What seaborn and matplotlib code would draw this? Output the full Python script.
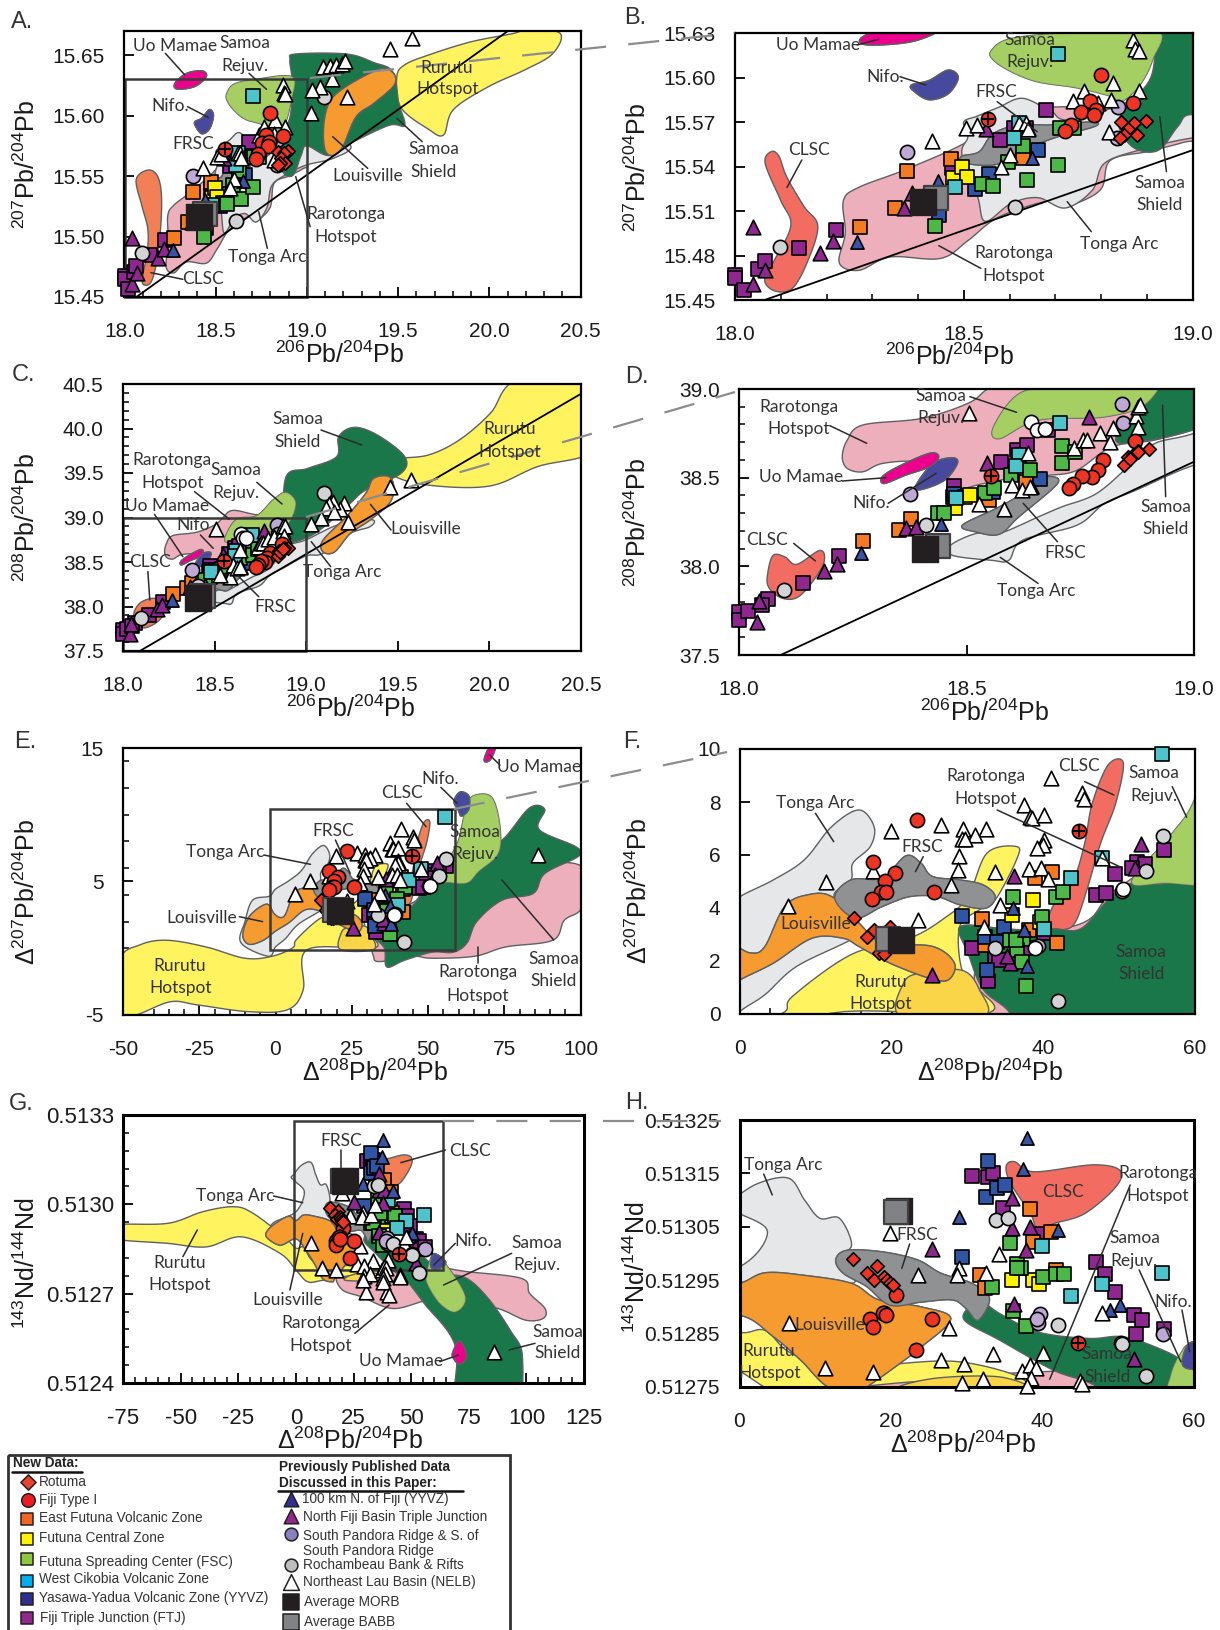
import numpy as np
import pandas as pd
import matplotlib
matplotlib.use("Agg")
import matplotlib.pyplot as plt
import seaborn as sns
from matplotlib.patches import Rectangle

sns.set_style("white")
plt.rcParams['font.family'] = ['Liberation Sans', 'DejaVu Sans']
plt.rcParams['mathtext.fontset'] = 'custom'
plt.rcParams['mathtext.rm'] = 'Liberation Sans'
plt.rcParams['mathtext.default'] = 'regular'

# ==========================================
# POINTS: 206Pb/204Pb vs 207Pb/204Pb
# ==========================================
ftj_207 = [(18.0, 15.467), (18.0, 15.465), (18.02, 15.457), (18.05, 15.471), (18.065, 15.476), (18.14, 15.485),
           (18.22, 15.497), (18.68, 15.578), (18.58, 15.558), (18.475, 15.539), (18.61, 15.566), (18.637, 15.566)]
nfb_207 = [(18.04, 15.499), (18.04, 15.461), (18.066, 15.47), (18.186, 15.482), (18.214, 15.49), (18.386, 15.522),
           (18.37, 15.512), (18.548, 15.565), (18.64, 15.566)]
km100_207 = [(18.267, 15.489), (18.443, 15.53), (18.65, 15.546)]
yyvz_207 = [(18.445, 15.507), (18.556, 15.535), (18.524, 15.525), (18.662, 15.551)]
efvz_207 = [(18.273, 15.499), (18.35, 15.512), (18.377, 15.537), (18.472, 15.545), (18.63, 15.546)]
fcz_207 = [(18.477, 15.532), (18.496, 15.54), (18.507, 15.533)]
fsc_207 = [(18.437, 15.5), (18.539, 15.528), (18.563, 15.527), (18.639, 15.531), (18.706, 15.541), (18.63, 15.554),
           (18.596, 15.543), (18.711, 15.566), (18.74, 15.566)]
wcvz_207 = [(18.48, 15.526), (18.706, 15.616), (18.609, 15.559), (18.62, 15.569)]
fiji_207 = [(18.80, 15.602), (18.87, 15.583), (18.777, 15.584), (18.756, 15.577), (18.79, 15.578), (18.785, 15.575),
            (18.734, 15.568), (18.722, 15.564)]
cross_207 = [(18.553, 15.572)]
rotuma_207 = [(18.843, 15.57), (18.899, 15.571), (18.872, 15.569), (18.858, 15.565), (18.879, 15.561),
              (18.85, 15.561), (18.842, 15.559)]
spr_207 = [(18.375, 15.55), (18.838, 15.58), (18.835, 15.559)]
roch_207 = [(18.098, 15.486), (18.611, 15.513), (19.094, 15.615)]
nelb_207 = [(18.43, 15.557), (18.505, 15.566), (18.528, 15.568), (18.601, 15.548), (18.581, 15.54), (18.62, 15.569),
            (18.635, 15.569), (18.641, 15.565), (18.739, 15.584), (18.763, 15.591), (18.826, 15.596), (18.822, 15.585),
            (18.882, 15.591), (18.871, 15.625), (18.875, 15.619), (18.882, 15.618), (18.817, 15.563), (18.794, 15.583),
            (19.457, 15.655), (19.574, 15.664), (19.09, 15.64), (19.126, 15.641), (19.16, 15.642), (19.19, 15.643),
            (19.21, 15.645), (19.14, 15.63), (19.07, 15.624), (19.03, 15.621), (19.02, 15.602), (19.22, 15.615)]
morb_207 = (18.411, 15.516)
babb_207 = (18.44, 15.519)

# ==========================================
# POINTS: 206Pb/204Pb vs 208Pb/204Pb
# ==========================================
ftj_208 = [(18.0, 37.74), (18.0, 37.695), (18.02, 37.75), (18.064, 37.815), (18.05, 37.78), (18.14, 37.906),
           (18.22, 38.056), (18.576, 38.59), (18.473, 38.452), (18.61, 38.655), (18.632, 38.684), (18.68, 38.77)]
nfb_208 = [(18.04, 37.686), (18.044, 37.804), (18.187, 37.974), (18.215, 38.015), (18.366, 38.217), (18.388, 38.222),
           (18.546, 38.58), (18.769, 38.844)]
km100_208 = [(18.269, 38.075), (18.445, 38.241), (18.645, 38.448)]
yyvz_208 = [(18.662, 38.49), (18.559, 38.42), (18.473, 38.41)]
efvz_208 = [(18.273, 38.141), (18.351, 38.207), (18.378, 38.269), (18.55, 38.373), (18.63, 38.476), (18.47, 38.39)]
fcz_208 = [(18.475, 38.331), (18.497, 38.392), (18.508, 38.401)]
fsc_208 = [(18.437, 38.298), (18.45, 38.298), (18.54, 38.416), (18.561, 38.439), (18.598, 38.514), (18.64, 38.542),
           (18.709, 38.678), (18.709, 38.584), (18.739, 38.646)]
wcvz_208 = [(18.478, 38.386), (18.706, 38.806), (18.615, 38.627), (18.609, 38.565)]
fiji_208 = [(18.87, 38.706), (18.801, 38.599), (18.788, 38.542), (18.776, 38.505), (18.754, 38.51), (18.735, 38.467),
            (18.725, 38.443)]
cross_208 = [(18.553, 38.508)]
rotuma_208 = [(18.9, 38.659), (18.878, 38.652), (18.854, 38.618), (18.867, 38.627), (18.846, 38.571), (18.859, 38.608),
              (18.876, 38.646)]
spr_208 = [(18.375, 38.407), (18.842, 38.913), (18.844, 38.81)]
roch_208 = [(18.098, 37.868), (18.411, 38.232), (19.098, 39.27)]
open_208 = [(18.642, 38.815), (18.656, 38.768), (18.673, 38.774)]
nelb_208 = [(18.506, 38.866), (18.582, 38.326), (18.527, 38.35), (18.6, 38.461), (18.622, 38.429), (18.639, 38.448),
            (18.636, 38.637), (18.737, 38.669), (18.756, 38.712), (18.765, 38.712), (18.793, 38.753), (18.816, 38.702),
            (18.823, 38.778), (18.872, 38.847), (18.876, 38.9), (18.882, 38.91), (18.878, 38.787), (19.459, 39.338),
            (19.574, 39.42), (19.226, 38.951), (19.209, 39.158), (19.187, 39.1), (19.145, 39.176), (19.124, 39.15),
            (19.109, 39.11), (19.15, 39.06), (19.08, 38.99), (19.028, 38.93)]
morb_208 = (18.409, 38.096)
babb_208 = (18.438, 38.113)

# ==========================================
# POINTS: D208 vs D207
# ==========================================
ftj_d7 = [(30.6, 2.49), (56, 6.19), (52.4, 5.75), (53.5, 5.65), (51.7, 5.5), (49.5, 5.29), (47, 4.5), (48.3, 4.56),
          (32.8, 1.23), (33.7, 2.17), (34.2, 2.05), (38, 2.49), (40.1, 3.05)]
nfb_d7 = [(36.2, 5.19), (52.9, 6.42), (52.2, 5.5), (25.4, 1.48), (35.7, 1.92), (35.2, 2.17)]
km100_d7 = [(36, 4), (37.9, 1.8), (37.5, 3.18)]
yyvz_d7 = [(29.3, 3.71), (34.9, 3.3), (32.4, 2.9), (33.9, 2.71), (32.6, 1.65)]
efvz_d7 = [(41.2, 5.35), (39, 5.13), (31.9, 3.59), (41.8, 2.68), (32.4, 2.61), (38.2, 3.18)]
fcz_d7 = [(38.7, 4.31), (35.9, 3.72), (39.6, 3.49)]
fsc_d7 = [(36.1, 4.4), (41.7, 4.43), (42.6, 4.62), (39.9, 3.66), (35.6, 2.8), (37.4, 2.83), (36.6, 2.42), (37.2, 1.98),
          (37.7, 1.04), (36.5, 2.8)]
wcvz_d7 = [(55.7, 9.81), (43.7, 5.13), (47.8, 5.9), (40.1, 3.22)]
fiji_d7 = [(23.4, 7.32), (17.6, 5.75), (20.5, 5.31), (19.1, 5.03), (18.6, 4.62), (19.3, 4.62), (17.4, 4.33), (25.6, 4.62)]
cross_d7 = [(44.7, 6.92)]
rotuma_d7 = [(15, 3.64), (16.7, 2.89), (17.7, 3.18), (19.8, 3.3), (18.3, 2.3), (19, 2.27)]
spr_d7 = [(39.3, 2.58), (50.4, 4.65)]
open_d7 = [(39.0, 2.5), (50.6, 4.7)]
roch_d7 = [(55.9, 6.72), (53.6, 5.41), (42, 0.48), (33.7, 2.49)]
nelb_d7 = [(41, 8.92), (45.1, 8.33), (45.4, 8.1), (37.5, 7.89), (38.3, 7.45), (38.6, 7.4), (40.1, 7.51), (26.6, 7.14),
           (29.5, 7.0), (32.5, 6.97), (31, 6.76), (19.9, 6.91), (29.3, 6.6), (29.7, 6.6), (40.1, 6.57), (40, 6.38),
           (39.2, 6.26), (28.9, 5.97), (28.8, 5.44), (38.1, 5.46), (39.7, 5.5), (40.7, 5.09), (33.6, 5.34), (27.8, 4.87),
           (17.6, 5.4), (11.3, 5), (6.4, 4.06), (23.5, 3.56), (34.3, 4.12), (32.2, 3.3), (47.8, 5.9), (86.1, 7)]
morb_d7 = (21.3, 2.8)
babb_d7 = (19.5, 2.83)

# ==========================================
# POINTS: D208 vs 143Nd/144Nd
# ==========================================
ftj_nd = [(30.7, 0.513146), (32.8, 0.513143), (33.5, 0.51315), (34.8, 0.513086), (39.5, 0.513036), (47.1, 0.512984),
          (48.3, 0.512961), (49.6, 0.512927), (52.1, 0.512884), (53.2, 0.512876), (52.4, 0.512849), (56, 0.512858)]
nfb_nd = [(36.2, 0.512906), (36, 0.513047), (38.3, 0.513049), (25.4, 0.513009), (37.8, 0.513006), (52.1, 0.512803),
          (36, 0.513103)]
km100_nd = [(37.9, 0.513217), (37.4, 0.513158), (29, 0.513069), (42, 0.513044), (48.9, 0.512895), (50.2, 0.512903)]
yyvz_nd = [(32.8, 0.513173), (32.6, 0.513106), (34, 0.513122), (35, 0.513128), (29.4, 0.512994)]
efvz_nd = [(38.3, 0.513083), (41.1, 0.513041), (38.8, 0.513022), (41.8, 0.51297), (31.7, 0.512959), (32.4, 0.512936)]
fcz_nd = [(36, 0.51295), (38.7, 0.51295), (39.6, 0.512943)]
fsc_nd = [(35.7, 0.513019), (36.6, 0.512981), (37.2, 0.512973), (40, 0.512956), (41.8, 0.512961), (42.8, 0.512961),
          (33.3, 0.512938), (36.1, 0.512893), (37.8, 0.512864), (36.6, 0.512972)]
wcvz_nd = [(39.9, 0.513014), (47.8, 0.512943), (55.8, 0.512964), (43.7, 0.512921)]
fiji_nd = [(20.6, 0.512922), (19.1, 0.512889), (17.2, 0.512877), (17.6, 0.512863), (25.4, 0.512877), (23.3, 0.51282),
           (18.9, 0.512889), (19.3, 0.512884)]
cross_nd = [(44.7, 0.512833)]
rotuma_nd = [(15, 0.512989), (18.2, 0.512976), (16.8, 0.512964), (17.7, 0.51295), (19.1, 0.512956), (19.5, 0.51295),
             (19.9, 0.512944), (20.3, 0.512941)]
spr_nd = [(39.7, 0.512886), (39.4, 0.512869), (39.3, 0.512878), (55.9, 0.512849), (50.4, 0.512833)]
roch_nd = [(33.8, 0.513063), (35.5, 0.513066), (42, 0.512867), (53.6, 0.51277), (50.5, 0.512831)]
nelb_nd = [(19.9, 0.513039), (23.5, 0.51296), (29, 0.512972), (28.7, 0.512959), (32.5, 0.512963), (34.3, 0.512999),
           (47.8, 0.512889), (27.7, 0.512861), (33.5, 0.512811), (26.6, 0.5128), (29.6, 0.512794), (40.1, 0.512813),
           (11.3, 0.512786), (17.6, 0.512778), (29.4, 0.512758), (32.1, 0.512765), (37.3, 0.51278), (38.3, 0.512791),
           (39.2, 0.512786), (38.5, 0.512766), (38, 0.512752), (45, 0.512762), (45.2, 0.512756), (6.5, 0.512869),
           (30.4, 0.512706), (39.7, 0.512706), (38, 0.51274), (40.5, 0.512695), (29, 0.512745), (86.1, 0.512504)]
morb_nd = (21.1, 0.51308)
babb_nd = (20.6, 0.513078)

# ==========================================
# FIELDS (outline vertices)
# ==========================================
shield_207 = [(18.907, 15.646), (18.939, 15.651), (19.216, 15.651), (19.365, 15.644), (19.472, 15.636), (19.504, 15.61),
              (19.536, 15.592), (19.45, 15.592), (19.237, 15.577), (19.12, 15.567), (19.0, 15.575), (18.968, 15.567),
              (18.926, 15.551), (18.875, 15.552), (18.841, 15.565), (18.849, 15.578), (18.909, 15.60), (18.917, 15.63)]
rejuv_207 = [(18.56, 15.618), (18.60, 15.626), (18.72, 15.63), (18.92, 15.632), (18.913, 15.612), (18.883, 15.594),
             (18.841, 15.583), (18.824, 15.587), (18.747, 15.593), (18.662, 15.597), (18.603, 15.604), (18.564, 15.612)]
louis_207 = [(19.483, 15.633), (19.43, 15.639), (19.344, 15.635), (19.195, 15.622), (19.12, 15.61), (19.092, 15.591),
             (19.099, 15.572), (19.141, 15.567), (19.195, 15.574), (19.269, 15.599), (19.365, 15.61), (19.472, 15.624)]
rurutu_207 = [(19.493, 15.632), (19.536, 15.642), (19.664, 15.65), (19.898, 15.661), (20.133, 15.668), (20.218, 15.672),
              (20.389, 15.668), (20.346, 15.651), (20.197, 15.638), (19.996, 15.624), (19.803, 15.605), (19.749, 15.584),
              (19.664, 15.589), (19.514, 15.607)]
tonga_207 = [(18.496, 15.548), (18.509, 15.56), (18.5, 15.57), (18.53, 15.574), (18.577, 15.58), (18.628, 15.586),
             (18.688, 15.578), (18.747, 15.572), (19.0, 15.594), (19.237, 15.576), (19.15, 15.565), (18.994, 15.559),
             (18.883, 15.551), (18.807, 15.542), (18.781, 15.524), (18.722, 15.512), (18.662, 15.519), (18.603, 15.515),
             (18.547, 15.503), (18.53, 15.52)]
raro_207 = [(18.228, 15.475), (18.271, 15.47), (18.339, 15.479), (18.449, 15.478), (18.509, 15.49), (18.577, 15.506),
            (18.688, 15.517), (18.722, 15.513), (18.798, 15.524), (18.82, 15.544), (18.9, 15.55), (18.977, 15.556),
            (19.0, 15.56), (18.875, 15.578), (18.679, 15.58), (18.577, 15.576), (18.509, 15.557), (18.373, 15.538),
            (18.271, 15.526), (18.237, 15.517), (18.241, 15.495)]
frsc_207 = [(18.496, 15.547), (18.534, 15.55), (18.564, 15.562), (18.62, 15.568), (18.688, 15.568), (18.781, 15.57),
            (18.786, 15.567), (18.705, 15.56), (18.628, 15.551), (18.577, 15.542), (18.534, 15.541), (18.496, 15.543)]
clsc_207 = [(18.079, 15.55), (18.066, 15.542), (18.1, 15.517), (18.122, 15.5), (18.083, 15.475), (18.065, 15.463),
            (18.088, 15.456), (18.126, 15.458), (18.16, 15.477), (18.181, 15.5), (18.151, 15.513), (18.113, 15.533),
            (18.096, 15.547)]
clsc_207_over = [(18.128, 15.555), (18.064, 15.547), (18.096, 15.525), (18.128, 15.506), (18.124, 15.486), (18.096, 15.463),
                 (18.139, 15.461), (18.171, 15.475), (18.196, 15.503), (18.203, 15.533), (18.181, 15.55)]
nifo_207 = [(18.386, 15.595), (18.424, 15.598), (18.466, 15.605), (18.488, 15.6), (18.466, 15.589), (18.424, 15.585),
            (18.39, 15.591)]
uo_207 = [(18.277, 15.627), (18.341, 15.635), (18.427, 15.637), (18.448, 15.632), (18.384, 15.624), (18.288, 15.622)]

shield_208 = [(18.89, 39.458), (19.007, 39.551), (19.166, 39.683), (19.177, 39.908), (19.262, 40.013), (19.389, 39.926),
              (19.538, 39.683), (19.517, 39.495), (19.325, 39.308), (19.24, 39.158), (19.1, 38.9), (19.0, 38.77),
              (18.854, 38.693), (18.829, 38.74), (18.87, 38.9)]
rejuv_208 = [(18.56, 38.79), (18.62, 38.98), (18.73, 39.02), (18.82, 39.2), (18.89, 39.28), (18.943, 39.16), (18.9, 38.93),
             (18.807, 38.844), (18.658, 38.825), (18.572, 38.72)]
raro_208 = [(18.227, 38.618), (18.238, 38.712), (18.272, 38.797), (18.401, 38.834), (18.503, 38.919), (18.546, 39.0),
            (18.6, 39.08), (18.73, 39.03), (18.889, 39), (19, 38.844), (19, 38.778), (18.914, 38.712), (18.82, 38.674),
            (18.743, 38.542), (18.683, 38.514), (18.615, 38.505), (18.538, 38.467), (18.478, 38.439), (18.452, 38.524),
            (18.392, 38.589), (18.315, 38.58), (18.272, 38.533), (18.238, 38.552)]
tonga_208 = [(18.465, 38.119), (18.521, 38.185), (18.572, 38.185), (18.658, 38.279), (18.709, 38.335), (18.786, 38.411),
             (18.863, 38.58), (18.914, 38.693), (19.0, 38.75), (19.15, 38.9), (19.27, 38.97), (19.368, 38.97),
             (19.347, 38.895), (19.24, 38.82), (19.09, 38.595), (19, 38.57), (18.872, 38.429), (18.803, 38.354),
             (18.743, 38.232), (18.623, 38.147), (18.593, 38.034), (18.555, 38.034), (18.469, 38.062)]
frsc_208 = [(18.491, 38.232), (18.572, 38.335), (18.649, 38.448), (18.679, 38.505), (18.7, 38.467), (18.615, 38.279),
            (18.572, 38.181), (18.521, 38.194)]
louis_208 = [(19.368, 39.439), (19.453, 39.458), (19.478, 39.326), (19.453, 39.158), (19.347, 38.97), (19.24, 38.82),
             (19.155, 38.614), (19.092, 38.614), (19.092, 38.745), (19.219, 39.008), (19.325, 39.27)]
rurutu_208 = [(19.474, 39.645), (19.665, 39.701), (19.835, 39.87), (20.005, 40.17), (20.154, 40.55), (20.6, 40.6),
              (20.6, 39.8), (20.26, 39.57), (20.0, 39.353), (19.665, 39.364), (19.474, 39.476)]
clsc_208 = [(18.063, 37.959), (18.075, 38.062), (18.101, 38.053), (18.127, 38.011), (18.178, 38.09), (18.187, 38.024),
            (18.161, 37.911), (18.127, 37.823), (18.092, 37.823), (18.065, 37.883)]
clsc_208_over = [(18.06, 37.93), (18.1, 38.05), (18.18, 38.09), (18.225, 37.98), (18.2, 37.85), (18.12, 37.76), (18.07, 37.82)]
uo_208 = [(18.315, 38.505), (18.349, 38.561), (18.418, 38.637), (18.439, 38.618), (18.418, 38.561), (18.366, 38.514),
          (18.319, 38.467)]
nifo_208 = [(18.388, 38.452), (18.426, 38.58), (18.469, 38.612), (18.48, 38.58), (18.452, 38.486), (18.401, 38.433)]

shield_d7 = [(29.05, 3.3), (34.2, 3.24), (37.3, 3.18), (41.4, 3.22), (45, 3.22), (48.6, 4.31), (51.7, 4.94), (56.3, 4.94),
             (60, 5.75), (65, 7), (74.3, 8.1), (83.2, 10.5), (88.3, 10.4), (86.4, 8.9), (98.5, 7.6), (99.4, 6.9), (88.3, 5.6),
             (84.5, 4.1), (74.3, 3.6), (66, 2.0), (62.8, 0.4), (58.3, -0.3), (51.3, -0.3), (42.3, -0.9), (36.5, -1.4), (35.7, 0),
             (32.1, 0.92), (30.1, 2.3)]
rejuv_d7 = [(66, 11.5), (71.1, 11.25), (73.6, 9.1), (73, 7.1), (66.6, 5.75), (62.8, 4.9), (56.3, 4.94), (51.7, 5.0),
            (57, 6.8), (60, 8.1), (62.8, 10.8)]
raro_d7 = [(31, 0.9), (32, -0.5), (34, -1), (44.9, -0.6), (51.3, -0.75), (65.3, -0.6), (75.5, 0.1), (90.9, 0.6), (94.7, 2.1),
           (100.5, 3.1), (100.5, 6.1), (84.5, 6.4), (62.8, 6.6), (50.1, 4.8), (46, 3.55), (40, 3), (32, 2)]
rurutu_d7 = [(-51, -0.9), (-44.5, 0.25), (-35.6, 0.6), (-22.8, 0.1), (-10, -0.75), (-1.1, -0.6), (5.66, 0.04), (6.94, 0.67),
             (14.65, 2.24), (22.4, 2.86), (27, 3.62), (30.1, 4.43), (32.6, 6.07), (36.5, 6.32), (36.5, 5.82), (33.7, 4.31),
             (31.6, 3.93), (29, 3.3), (29.3, 1.67), (31.6, 0.92), (32.1, 0), (10.4, -0.1), (9.1, -3.1), (4, -4.6), (-8.8, -4.75),
             (-25.4, -4.25), (-34.3, -4), (-44.5, -4.9), (-51, -5.2)]
gold_d7 = [(21.3, -0.1), (21.6, 1.17), (23.9, 1.55), (29.3, 1.65), (31.6, 0.92), (32.1, -0.1)]
louis_d7 = [(-10.7, 1.0), (-8.5, 2.4), (-3, 3.3), (-0.5, 2.6), (1.5, 2.3), (3.3, 2.55), (5.9, 4.06), (9, 4.5), (12.1, 4.43),
            (15.7, 3.43), (18.8, 2.68), (25.4, 2.55), (28.3, 1.92), (27.5, 1.29), (24.9, 1.36), (19.8, 1.92), (15.7, 2.55),
            (13.6, 2.86), (9.5, 2.86), (4.4, 1.92), (0, 1.29), (-4, 0.6), (-8.7, 0.3)]
tonga_d7 = [(-7.5, 3.6), (-2, 3.9), (0, 4.43), (4.4, 5.06), (8.5, 5.82), (12.1, 7.07), (15.7, 7.7), (17.7, 7.07), (17.2, 6.32),
            (14.9, 5.69), (14.65, 5.06), (12.4, 4.43), (15.7, 3.43), (15.2, 2.9), (7.5, 1.8), (3.3, 0.73), (0, 0.1),
            (-2.4, -0.6), (-11.3, 0.4), (-10, 2)]
frsc_d7 = [(12.5, 4.37), (14.65, 5.06), (18.8, 5.13), (21.9, 5.97), (23.9, 5.69), (25.4, 5.19), (29.05, 5.06), (32.1, 4.87),
           (33.7, 4.43), (32.4, 3.99), (29.05, 4.12), (26, 4.43), (22.4, 4.43), (18.8, 4.06), (15.2, 3.62)]
clsc_d7 = [(40.6, 3.3), (41.4, 4.12), (44, 5.06), (45.5, 6.44), (46.5, 7.95), (48.6, 9.4), (50.6, 9.48), (49.6, 7.95),
           (47.6, 6.44), (45.8, 4.69), (44.2, 3.43), (42.4, 3.18)]
nifo_d7 = [(58.5, 11), (60.5, 11.7), (63.4, 11.4), (63.4, 10.4), (61, 9.9), (60, 10.3)]
uo_d7 = [(68.5, 14.25), (70.4, 15.2), (72.3, 15.2), (70.7, 14.2), (68.9, 13.95)]

shield_nd = [(29.9, 0.512872), (29.9, 0.512894), (31.7, 0.512912), (34.3, 0.512888), (39.4, 0.512853), (46.1, 0.512841),
             (50.7, 0.512844), (55.9, 0.512819), (58.5, 0.512797), (60, 0.512763), (72.6, 0.512757), (82.8, 0.51269),
             (92.9, 0.512578), (98.3, 0.512488), (94.6, 0.5123), (70.1, 0.5123), (69.3, 0.512522), (55.7, 0.512667),
             (47.3, 0.51275), (41.5, 0.512781), (34.3, 0.512838)]
rejuv_nd = [(56.9, 0.51277), (58.2, 0.512812), (60, 0.512829), (65.9, 0.51279), (73.5, 0.512689), (69.3, 0.512639),
            (62.5, 0.512667), (57, 0.512734)]
raro_nd = [(17.7, 0.512757), (25.3, 0.512768), (40.5, 0.512779), (59.1, 0.51279), (74.3, 0.512774), (98, 0.512751),
           (101.4, 0.512701), (108.1, 0.51265), (107.3, 0.512617), (99.7, 0.512611), (87.8, 0.51265), (70.9, 0.512678),
           (57.4, 0.512678), (42.2, 0.51265), (28.7, 0.512689), (20.3, 0.512712)]
rurutu_nd = [(-80, 0.51293), (-55.7, 0.512936), (-40.5, 0.512975), (-27, 0.512992), (-18.6, 0.51297), (-5.1, 0.512891),
             (0, 0.512853), (3.4, 0.512856), (7, 0.512812), (15, 0.51278), (21.4, 0.512794), (29.2, 0.512797),
             (36.9, 0.512769), (37.4, 0.51274), (27, 0.512762), (11.8, 0.512745), (5.1, 0.51274), (0, 0.51278),
             (-6.8, 0.512835), (-23.6, 0.512891), (-38.9, 0.512857), (-55.7, 0.512869), (-80, 0.512886)]
gold_nd = [(21.4, 0.512745), (25.6, 0.512766), (34.3, 0.512769), (37.4, 0.512745)]
louis_nd = [(-12, 0.512915), (-8, 0.51294), (-3, 0.51296), (0, 0.512945), (3.4, 0.512964), (8.6, 0.512959), (14.8, 0.512944),
            (18.4, 0.512913), (24, 0.5129), (27.9, 0.512878), (24, 0.512825), (19.9, 0.512781), (16.8, 0.51275),
            (15.8, 0.51274), (11.7, 0.51275), (8.1, 0.5128), (4.5, 0.512844), (0, 0.512884), (-6.8, 0.512863), (-12.7, 0.51289)]
tonga_nd = [(-10.1, 0.512936), (0, 0.512975), (3.7, 0.51304), (0, 0.513075), (-2, 0.51309), (-1, 0.5131), (2.4, 0.513131),
            (6.5, 0.513141), (8.6, 0.5131), (10.6, 0.513066), (13.2, 0.513066), (14.8, 0.513016), (13, 0.512994),
            (13.2, 0.512975), (14.8, 0.512944), (3.4, 0.512955), (-10, 0.5129)]
frsc_nd = [(12.7, 0.512988), (14.2, 0.513006), (18.9, 0.513003), (23.5, 0.512988), (26.6, 0.512963), (30.7, 0.512944),
           (33, 0.512916), (31.5, 0.512875), (29.9, 0.512897), (28.1, 0.512913), (24, 0.512909), (19.9, 0.512903),
           (16.8, 0.512938), (13.7, 0.512963)]
clsc_nd = [(35.2, 0.513163), (36.3, 0.513172), (38.9, 0.513153), (46.6, 0.513166), (50.2, 0.513156), (49.7, 0.513125),
           (45.6, 0.513075), (41.5, 0.513056), (39.4, 0.513044), (38.4, 0.513075), (35.8, 0.513131)]
nifo_nd = [(58.5, 0.512805), (60, 0.512835), (65, 0.512807), (62.5, 0.512785), (59, 0.512785)]
uo_nd = [(68.4, 0.51251), (70.9, 0.512542), (73.5, 0.51251), (73.8, 0.512482), (70.9, 0.512463), (68, 0.512488)]

# reference line end points
nhrl_207 = [(18.0, 15.443), (20.5, 15.713)]
nhrl_208 = [(18.0, 37.39), (20.5, 40.39)]

# ==========================================
# STYLES
# ==========================================
FIELD_COLORS = {"tonga": "#E6E7E8", "raro": "#EEAFBC", "rurutu": "#FFF460", "gold": "#FAD547", "shield": "#1A774A",
                "rejuv": "#A5CF63", "louis": "#F59B30", "frsc": "#8F9193", "clsc": "#F36C61", "nifo": "#46499D", "uo": "#EC008C"}
CLSC_OVERVIEW = "#F37F56"
# (marker, size, face colour), in drawing order
POINT_STYLES = {"ftj": ("s", 105, "#8E278F"), "efvz": ("s", 95, "#F47B20"), "yyvz": ("s", 105, "#2F55A4"),
                "fcz": ("s", 105, "#FFF200"), "fsc": ("s", 105, "#4DB848"), "wcvz": ("s", 105, "#4EC3C9"),
                "nfb": ("^", 110, "#8E278F"), "km100": ("^", 90, "#3A53A4"), "spr": ("o", 105, "#BDA9D4"),
                "roch": ("o", 105, "#D1D3D4"), "open": ("o", 105, "white"), "nelb": ("^", 110, "white"),
                "fiji": ("o", 105, "#EE3524"), "cross": ("o", 105, "#EE3524"), "rotuma": ("D", 48, "#EE3524")}

data_207 = {"ftj": ftj_207, "efvz": efvz_207, "yyvz": yyvz_207, "fcz": fcz_207, "fsc": fsc_207, "wcvz": wcvz_207, "nfb": nfb_207,
            "km100": km100_207, "spr": spr_207, "roch": roch_207, "nelb": nelb_207, "fiji": fiji_207, "cross": cross_207,
            "rotuma": rotuma_207}
data_208 = {"ftj": ftj_208, "efvz": efvz_208, "yyvz": yyvz_208, "fcz": fcz_208, "fsc": fsc_208, "wcvz": wcvz_208, "nfb": nfb_208,
            "km100": km100_208, "spr": spr_208, "roch": roch_208, "open": open_208, "nelb": nelb_208, "fiji": fiji_208,
            "cross": cross_208, "rotuma": rotuma_208}
data_d7 = {"ftj": ftj_d7, "efvz": efvz_d7, "yyvz": yyvz_d7, "fcz": fcz_d7, "fsc": fsc_d7, "wcvz": wcvz_d7, "nfb": nfb_d7,
           "km100": km100_d7, "spr": spr_d7, "roch": roch_d7, "open": open_d7, "nelb": nelb_d7, "fiji": fiji_d7, "cross": cross_d7,
           "rotuma": rotuma_d7}
data_nd = {"ftj": ftj_nd, "efvz": efvz_nd, "yyvz": yyvz_nd, "fcz": fcz_nd, "fsc": fsc_nd, "wcvz": wcvz_nd, "nfb": nfb_nd,
           "km100": km100_nd, "spr": spr_nd, "roch": roch_nd, "nelb": nelb_nd, "fiji": fiji_nd, "cross": cross_nd,
           "rotuma": rotuma_nd}

fields_207 = {"raro": raro_207, "tonga": tonga_207, "rurutu": rurutu_207, "shield": shield_207, "rejuv": rejuv_207,
              "louis": louis_207, "frsc": frsc_207, "clsc": clsc_207, "nifo": nifo_207, "uo": uo_207}
fields_208 = {"raro": raro_208, "tonga": tonga_208, "rurutu": rurutu_208, "shield": shield_208, "rejuv": rejuv_208,
              "louis": louis_208, "frsc": frsc_208, "clsc": clsc_208, "nifo": nifo_208, "uo": uo_208}
fields_d7 = {"raro": raro_d7, "tonga": tonga_d7, "rurutu": rurutu_d7, "gold": gold_d7, "clsc": clsc_d7, "shield": shield_d7,
             "rejuv": rejuv_d7, "louis": louis_d7, "frsc": frsc_d7, "nifo": nifo_d7, "uo": uo_d7}
fields_nd = {"raro": raro_nd, "tonga": tonga_nd, "rurutu": rurutu_nd, "gold": gold_nd, "clsc": clsc_nd, "shield": shield_nd,
             "rejuv": rejuv_nd, "louis": louis_nd, "frsc": frsc_nd, "nifo": nifo_nd, "uo": uo_nd}

# pixel boxes of the eight panels: left, right, top, bottom
BOXES = {"A": (124.5, 580.5, 31, 297), "B": (735, 1192.5, 33, 300), "C": (123, 581, 384, 651), "D": (739, 1194, 389, 655),
         "E": (123, 580.5, 748, 1015), "F": (740, 1194.5, 749, 1014), "G": (123, 584, 1115, 1383), "H": (739.5, 1194, 1120, 1387)}

# labels and leader lines, in crop coordinates of each panel
ORIGIN = {"A": (0, 0), "B": (610, 0), "C": (0, 360), "D": (610, 360), "E": (0, 730), "F": (610, 730), "G": (0, 1090), "H": (610, 1090)}
LABELS = {
    "A": [("Uo Mamae", 450, 137), ("Samoa", 630, 130), ("Rejuv.", 630, 197), ("Nifo.", 438, 318), ("FRSC", 497, 433),
          ("Rurutu", 1148, 205), ("Hotspot", 1150, 268), ("Samoa", 1115, 447), ("Shield", 1115, 515), ("Louisville", 945, 527),
          ("Rarotonga", 888, 642), ("Hotspot", 888, 710), ("Tonga Arc", 686, 770), ("CLSC", 522, 838)],
    "B": [("Uo Mamae", 535, 135), ("Samoa", 1078, 120), ("Rejuv.", 1078, 187), ("Nifo.", 707, 230), ("FRSC", 993, 277),
          ("CLSC", 512, 450), ("Samoa", 1413, 548), ("Shield", 1413, 615), ("Tonga Arc", 1308, 733), ("Rarotonga", 1037, 758),
          ("Hotspot", 1037, 827)],
    "C": [("Samoa", 765, 177), ("Shield", 765, 245), ("Rarotonga", 443, 300), ("Hotspot", 443, 368), ("Samoa", 607, 330),
          ("Rejuv.", 607, 398), ("Uo Mamae", 430, 437), ("Nifo", 497, 495), ("CLSC", 385, 605), ("Rurutu", 1310, 207),
          ("Hotspot", 1310, 275), ("Louisville", 1093, 508), ("Tonga Arc", 880, 635), ("FRSC", 708, 740)],
    "D": [("Rarotonga", 485, 140), ("Hotspot", 485, 208), ("Samoa", 850, 107), ("Rejuv.", 850, 175), ("Uo Mamae", 492, 352),
          ("Nifo.", 670, 430), ("CLSC", 403, 540), ("Samoa", 1428, 440), ("Shield", 1428, 507), ("FRSC", 1170, 578),
          ("Tonga Arc", 1095, 692)],
    "E": [("Uo Mamae", 1385, 110), ("Nifo.", 1130, 148), ("CLSC", 1032, 190), ("FRSC", 857, 303), ("Tonga Arc", 580, 365),
          ("Samoa", 1220, 305), ("Rejuv.", 1220, 373), ("Louisville", 518, 563), ("Rurutu", 463, 707), ("Hotspot", 463, 773),
          ("Rarotonga", 1228, 727), ("Hotspot", 1228, 797), ("Samoa", 1423, 687), ("Shield", 1423, 753)],
    "F": [("Tonga Arc", 528, 218), ("FRSC", 803, 350), ("Rarotonga", 965, 137), ("Hotspot", 965, 207), ("CLSC", 1205, 107),
          ("Samoa", 1397, 130), ("Rejuv.", 1397, 198), ("Louisville", 528, 583), ("Rurutu", 695, 755), ("Hotspot", 695, 822),
          ("Samoa", 1365, 665), ("Shield", 1365, 733)],
    "G": [("FRSC", 877, 152), ("CLSC", 1207, 182), ("Tonga Arc", 605, 318), ("Nifo.", 1215, 453), ("Samoa", 1380, 458),
          ("Rejuv.", 1380, 525), ("Rurutu", 462, 518), ("Hotspot", 462, 585), ("Louisville", 740, 630), ("Rarotonga", 825, 698),
          ("Hotspot", 825, 767), ("Samoa", 1433, 725), ("Shield", 1433, 790), ("Uo Mamae", 1030, 812)],
    "H": [("Tonga Arc", 444, 225), ("FRSC", 790, 435), ("Rarotonga", 1407, 248), ("Hotspot", 1407, 318), ("CLSC", 1163, 307),
          ("Samoa", 1350, 443), ("Rejuv.", 1347, 513), ("Nifo.", 1447, 635), ("Louisville", 565, 705), ("Rurutu", 407, 783),
          ("Hotspot", 410, 850), ("Samoa", 1278, 792), ("Shield", 1280, 860)],
}
LEADERS = {
    "A": [(425, 160, 475, 225), (640, 220, 685, 268), (482, 320, 535, 352), (1020, 355, 1085, 425), (855, 410, 945, 505),
          (760, 530, 797, 680), (665, 635, 687, 745), (388, 818, 470, 838)],
    "B": [(635, 135, 690, 118), (745, 230, 812, 255), (995, 305, 1098, 395), (493, 480, 455, 562), (1413, 350, 1430, 515),
          (1175, 605, 1237, 695), (845, 737, 953, 805)],
    "C": [(825, 210, 930, 255), (500, 395, 590, 478), (660, 367, 725, 432), (397, 463, 470, 590), (515, 525, 548, 565),
          (380, 635, 385, 720), (952, 433, 1005, 510), (800, 545, 850, 620), (612, 648, 665, 710)],
    "D": [(565, 197, 660, 250), (925, 110, 1045, 157), (597, 363, 710, 353), (715, 430, 838, 340), (472, 550, 528, 603),
          (1420, 135, 1428, 410), (1062, 430, 1150, 545), (1003, 592, 1100, 670)],
    "E": [(1258, 75, 1285, 105), (1133, 172, 1175, 220), (1045, 220, 1095, 290), (862, 330, 900, 430), (678, 375, 798, 403),
          (615, 560, 675, 575), (1228, 650, 1228, 698), (1290, 450, 1423, 630)],
    "F": [(528, 250, 575, 335), (805, 380, 785, 425), (995, 240, 1310, 410), (1220, 155, 1295, 195), (1445, 170, 1482, 262)],
    "G": [(877, 180, 877, 235), (1145, 180, 1030, 218), (703, 318, 778, 338), (1170, 460, 1115, 525), (1315, 490, 1140, 585),
          (507, 420, 470, 500), (778, 430, 745, 600), (1000, 645, 912, 730), (1375, 760, 1308, 780), (1130, 815, 1178, 795)],
    "H": [(395, 252, 417, 315), (770, 462, 750, 535), (1337, 285, 1130, 868), (1360, 540, 1467, 815), (1470, 660, 1490, 785)],
}
LETTERS = {"A": (58, 65), "B": (65, 55), "C": (60, 45), "D": (70, 50), "E": (65, 35), "F": (58, 35), "G": (55, 42), "H": (70, 38)}

PB6 = "$^{206}$Pb/$^{204}$Pb"
PB7 = "$^{207}$Pb/$^{204}$Pb"
PB8 = "$^{208}$Pb/$^{204}$Pb"
D8 = "Δ$^{208}$Pb/$^{204}$Pb"
D7 = "Δ$^{207}$Pb/$^{204}$Pb"
ND = "$^{143}$Nd/$^{144}$Nd"
LABEL_FONT = ['Lato', 'Liberation Sans']
PB6_TICKS = ["18.0", "18.5", "19.0", "19.5", "20.0", "20.5"]
PB6_TICKS_ZOOM = ["18.0", "18.5", "19.0"]
D8_TICKS_E = ["-50", "-25", "0", "25", "50", "75", "100"]
D8_TICKS_G = ["-75", "-50", "-25", "0", "25", "50", "75", "100", "125"]
D8_TICKS_ZOOM = ["0", "20", "40", "60"]


def smooth(pts, n=10):
    # closed Catmull-Rom outline through the read vertices
    p = np.array(pts, dtype=float)
    out = []
    for i in range(len(p)):
        p0, p1, p2, p3 = p[i - 1], p[i], p[(i + 1) % len(p)], p[(i + 2) % len(p)]
        for t in np.linspace(0, 1, n, endpoint=False):
            out.append(0.5 * (2 * p1 + (p2 - p0) * t + (2 * p0 - 5 * p1 + 4 * p2 - p3) * t ** 2
                              + (3 * p1 - p0 - 3 * p2 + p3) * t ** 3))
    return np.array(out)


def fill_field(ax, pts, color, edge="#5E6062", alpha=1.0):
    xy = smooth(pts)
    ax.fill(xy[:, 0], xy[:, 1], facecolor=color, edgecolor=edge, lw=1.0, alpha=alpha, zorder=1)


def draw_panel(name, fields, groups, morb, babb, xlim, ylim, xticks, xlabs, yticks, yfmt, xminor, yminor, inset=None, nhrl=None,
               babb_top=False, ylabel="", xlabel="", xpos=(0, 0), ypos=(0, 0), tick_fs=15, clsc_color=None, spine=1.6):
    l, r, t, b = BOXES[name]
    ax = fig.add_axes([l / W, 1 - b / H, (r - l) / W, (b - t) / H])
    ax.set_xlim(xlim)
    ax.set_ylim(ylim)

    for key, pts in fields.items():
        color = clsc_color if (key == "clsc" and clsc_color) else FIELD_COLORS[key]
        fill_field(ax, pts, color)
    # the rejuvenated field shows through on top of the shield
    fill_field(ax, fields["rejuv"], FIELD_COLORS["rejuv"], edge="none", alpha=0.72)
    for key in ("louis", "frsc", "nifo", "uo"):
        fill_field(ax, fields[key], FIELD_COLORS[key])

    if nhrl is not None:
        sns.lineplot(x=[p[0] for p in nhrl], y=[p[1] for p in nhrl], color="black", lw=1.3, ax=ax, zorder=2,
                     legend=False, estimator=None, sort=False)
    if inset is not None:
        ax.add_patch(Rectangle((inset[0], inset[2]), inset[1] - inset[0], inset[3] - inset[2], fill=False,
                               edgecolor="#3A3A3A", lw=1.8, zorder=2.5, clip_on=False))

    z = 3
    for key, pts in groups.items():
        df = pd.DataFrame(pts, columns=["x", "y"])
        df = df[df.x.between(*xlim) & df.y.between(*ylim)]
        if df.empty:
            continue
        marker, s, color = POINT_STYLES[key]
        sns.scatterplot(data=df, x="x", y="y", marker=marker, s=s, color=color, edgecolor="black", linewidth=1.2, ax=ax,
                        clip_on=False, zorder=z, legend=False)
        if key == "cross":
            sns.scatterplot(data=df, x="x", y="y", marker="+", s=70, color="black", linewidth=1.5, ax=ax, clip_on=False,
                            zorder=z + 0.5, legend=False)
        z += 1
    sns.scatterplot(x=[babb[0]], y=[babb[1]], marker="s", s=320, color="#808285", edgecolor="#404040", linewidth=1.6, ax=ax,
                    clip_on=False, zorder=z + 1 if babb_top else z, legend=False)
    sns.scatterplot(x=[morb[0]], y=[morb[1]], marker="s", s=340, color="#231F20", edgecolor="#231F20", linewidth=1, ax=ax,
                    clip_on=False, zorder=z if babb_top else z + 1, legend=False)

    ax.set_xlabel("")
    ax.set_ylabel("")
    ax.set_xticks(xticks)
    ax.set_xticklabels(xlabs)
    ax.set_yticks(yticks)
    ax.set_yticklabels([yfmt % v for v in yticks])
    if xminor:
        ax.xaxis.set_minor_locator(plt.MultipleLocator(xminor))
    if yminor:
        ax.yaxis.set_minor_locator(plt.MultipleLocator(yminor))
    ax.tick_params(axis="both", which="major", direction="in", length=7, width=1.3, color="black", labelsize=tick_fs,
                   labelcolor="#1A1A1A", bottom=True, left=True)
    ax.tick_params(axis="both", which="minor", direction="in", length=4, width=1.1, color="black", bottom=True, left=True)
    ax.tick_params(axis="x", which="major", pad=18)
    ax.tick_params(axis="y", which="major", pad=14 if name != "G" else 6)
    for sp in ax.spines.values():
        sp.set_visible(True)
        sp.set_color("black")
        sp.set_linewidth(spine)
    over.text(xpos[0], xpos[1], xlabel, fontsize=18, color="#1A1A1A", ha="center", va="center")
    over.text(ypos[0], ypos[1], ylabel, fontsize=18, color="#1A1A1A", ha="center", va="center", rotation=90)
    return ax


# ==========================================
# FIGURE
# ==========================================
W, H = 1220, 1630
fig = plt.figure(figsize=(W / 100, H / 100), dpi=100, facecolor="white")
over = fig.add_axes([0, 0, 1, 1], zorder=10)
over.set_xlim(0, W)
over.set_ylim(H, 0)
over.axis("off")
over.patch.set_alpha(0)

draw_panel("A", {**fields_207, "clsc": clsc_207_over}, data_207, morb_207, babb_207, (18, 20.5), (15.45, 15.67),
           [18, 18.5, 19, 19.5, 20, 20.5], PB6_TICKS, [15.45, 15.5, 15.55, 15.6, 15.65], "%.2f", 0.1, None,
           inset=(18, 19, 15.45, 15.63), nhrl=nhrl_207, clsc_color=CLSC_OVERVIEW,
           ylabel=PB7, xlabel=PB6, xpos=(340, 355), ypos=(27, 164))
draw_panel("B", fields_207, data_207, morb_207, babb_207, (18, 19), (15.45, 15.63), [18, 18.5, 19], PB6_TICKS_ZOOM,
           [15.45, 15.48, 15.51, 15.54, 15.57, 15.6, 15.63], "%.2f", 0.1, None, nhrl=nhrl_207,
           ylabel=PB7, xlabel=PB6, xpos=(950, 357), ypos=(638, 167))
draw_panel("C", {**fields_208, "clsc": clsc_208_over}, data_208, morb_208, babb_208, (18, 20.5), (37.5, 40.5),
           [18, 18.5, 19, 19.5, 20, 20.5], PB6_TICKS, [37.5, 38, 38.5, 39, 39.5, 40, 40.5], "%.1f", None, 0.1,
           inset=(18, 19, 37.5, 39), nhrl=nhrl_208, clsc_color=CLSC_OVERVIEW,
           ylabel=PB8, xlabel=PB6, xpos=(351, 709), ypos=(27, 517))
draw_panel("D", fields_208, data_208, morb_208, babb_208, (18, 19), (37.5, 39), [18, 18.5, 19], PB6_TICKS_ZOOM,
           [37.5, 38, 38.5, 39], "%.1f", None, 0.1, nhrl=nhrl_208,
           ylabel=PB8, xlabel=PB6, xpos=(985, 713), ypos=(638, 522))
draw_panel("E", fields_d7, data_d7, morb_d7, babb_d7, (-50, 100), (-5, 15), [-50, -25, 0, 25, 50, 75, 100], D8_TICKS_E,
           [-5, 5, 15], "%d", 5, 2, inset=(-1.7, 58.7, -0.1, 10.4), clsc_color=CLSC_OVERVIEW,
           ylabel=D7, xlabel=D8, xpos=(375, 1073), ypos=(27, 892))
draw_panel("F", fields_d7, data_d7, morb_d7, babb_d7, (0, 60), (0, 10), [0, 20, 40, 60], D8_TICKS_ZOOM,
           [0, 2, 4, 6, 8, 10], "%d", 4, None,
           ylabel=D7, xlabel=D8, xpos=(990, 1073), ypos=(639, 891))
draw_panel("G", fields_nd, data_nd, morb_nd, babb_nd, (-75, 125), (0.5124, 0.5133),
           [-75, -50, -25, 0, 25, 50, 75, 100, 125], D8_TICKS_G, [0.5124, 0.5127, 0.5130, 0.5133], "%.4f", 5, 0.00006,
           inset=(-0.85, 64, 0.51278, 0.51328), clsc_color=CLSC_OVERVIEW, tick_fs=16, spine=2.2,
           ylabel=ND, xlabel=D8, xpos=(350, 1441), ypos=(27, 1263))
draw_panel("H", fields_nd, data_nd, morb_nd, babb_nd, (0, 60), (0.51275, 0.51325), [0, 20, 40, 60], D8_TICKS_ZOOM,
           [0.51275, 0.51285, 0.51295, 0.51305, 0.51315, 0.51325], "%.5f", 4, None, babb_top=True, spine=2.2,
           ylabel=ND, xlabel=D8, xpos=(963, 1445), ypos=(637, 1267))

# field names, leader lines, panel letters
for name in LABELS:
    ox, oy = ORIGIN[name]
    for x1, y1, x2, y2 in LEADERS[name]:
        over.plot([ox + x1 / 2.57, ox + x2 / 2.57], [oy + y1 / 3, oy + y2 / 3], color="#2B2B2B", lw=1.1)
    for text, x, y in LABELS[name]:
        over.text(ox + x / 2.57, oy + y / 3, text, fontsize=12.5, family=LABEL_FONT, color="#333333", ha="center", va="center")
    lx, ly = LETTERS[name]
    over.text(ox + lx / 2.57, oy + ly / 3, name + ".", fontsize=17, color="#333333", ha="center", va="center")

# dashed links between overview and zoomed panels
for x1, y1, x2, y2 in [(310, 78, 735, 33), (306, 517, 735, 392), (454, 809, 727, 752), (443, 1121, 721, 1121)]:
    over.plot([x1, x2], [y1, y2], color="#8A8C8E", lw=1.6, dashes=(14, 10))

# ==========================================
# LEGEND
# ==========================================
over.add_patch(Rectangle((8, 1455), 502, 260, fill=False, edgecolor="#333333", lw=2))


def leg_x(v):
    return v / 3.015


def leg_y(v):
    return 1440 + v / 3


legend_keys = [("D", 60, "#E8432E", "Rotuma", 85, 125, 118, 125), ("o", 95, "#ED1C24", "Fiji Type I", 83, 180, 118, 180),
               ("s", 85, "#F26522", "East Futuna Volcanic Zone", 82, 238, 118, 235),
               ("s", 85, "#FFF200", "Futuna Central Zone", 82, 298, 118, 295),
               ("s", 85, "#8DC63F", "Futuna Spreading Center (FSC)", 82, 358, 118, 365),
               ("s", 85, "#00AEEF", "West Cikobia Volcanic Zone", 82, 422, 118, 418),
               ("s", 85, "#2E3192", "Yasawa-Yadua Volcanic Zone (YYVZ)", 82, 477, 118, 475),
               ("s", 85, "#92278F", "Fiji Triple Junction (FTJ)", 82, 535, 120, 533),
               ("^", 110, "#2E3192", "100 km N. of Fiji (YYVZ)", 878, 178, 910, 177),
               ("^", 110, "#92278F", "North Fiji Basin Triple Junction", 878, 228, 913, 230),
               ("o", 85, "#8781BD", "South Pandora Ridge & S. of", 876, 282, 913, 287),
               ("o", 85, "#BCBEC0", "Rochambeau Bank & Rifts", 876, 375, 913, 375),
               ("^", 130, "white", "Northeast Lau Basin (NELB)", 876, 425, 913, 425),
               ("s", 130, "#231F20", "Average MORB", 877, 487, 918, 487),
               ("s", 130, "#808285", "Average BABB", 877, 547, 918, 547)]
for marker, s, color, text, mx, my, tx, ty in legend_keys:
    sns.scatterplot(x=[leg_x(mx)], y=[leg_y(my)], marker=marker, s=s, color=color, edgecolor="#231F20", linewidth=1.1, ax=over,
                    clip_on=False, legend=False)
    over.text(leg_x(tx), leg_y(ty), text, fontsize=9.85, color="#333333", ha="left", va="center")
over.text(leg_x(913), leg_y(333), "South Pandora Ridge", fontsize=9.85, color="#333333", ha="left", va="center")
over.text(leg_x(40), leg_y(70), "New Data:", fontsize=9.85, fontweight="bold", color="#222222", ha="left", va="center")
over.text(leg_x(842), leg_y(82), "Previously Published Data", fontsize=9.85, fontweight="bold", color="#222222", ha="left", va="center")
over.text(leg_x(842), leg_y(130), "Discussed in this Paper:", fontsize=9.85, fontweight="bold", color="#222222", ha="left", va="center")
over.plot([leg_x(37), leg_x(248)], [leg_y(95), leg_y(95)], color="#111111", lw=1.8)
over.plot([leg_x(838), leg_x(1395)], [leg_y(153), leg_y(153)], color="#111111", lw=1.8)
over.set_xlim(0, W)
over.set_ylim(H, 0)
over.set_xlabel("")
over.set_ylabel("")

plt.savefig("out.png", dpi=100)
plt.close()
